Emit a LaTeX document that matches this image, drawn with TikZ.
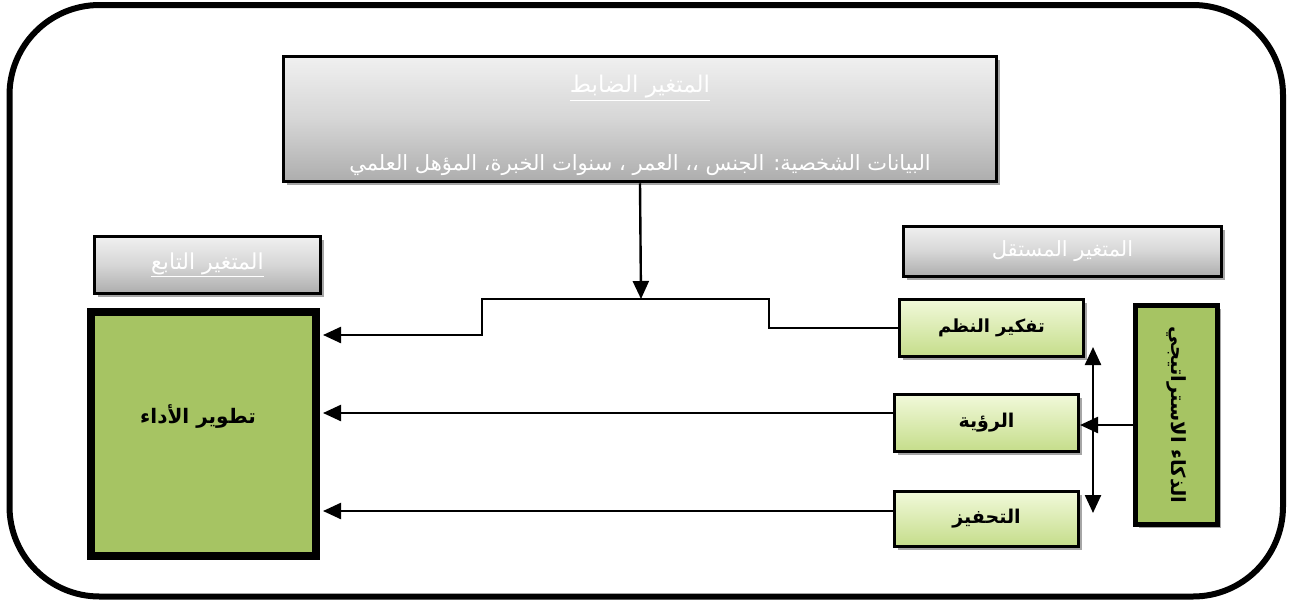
\documentclass[tikz,border=0pt]{standalone}
\usepackage{fontspec}
\newfontfamily\arabicfont[Script=Arabic]{DejaVu Sans}
\TeXXeTstate=1
\usetikzlibrary{arrows.meta,shadows,calc}
\definecolor{dgreen}{HTML}{A6C463}
\definecolor{lgreenT}{HTML}{F1F9DA}
\definecolor{lgreenB}{HTML}{C5DD8A}
\definecolor{grayT}{HTML}{F0F0F0}
\definecolor{grayM}{HTML}{D6D6D6}
\definecolor{grayB}{HTML}{ADADAD}
\tikzset{
  tip/.tip={Triangle[length=18pt,width=16pt]},
  arr/.style={line width=2.4pt, -tip},
  link/.style={line width=2.4pt},
  shad/.style={drop shadow={shadow xshift=3pt,shadow yshift=-3pt,opacity=0.35,fill=black}},
  graybox/.style={draw=black, line width=3.5pt, top color=grayT, bottom color=grayB, middle color=grayM, shad,
     text=white, font=\arabicfont\fontsize{21}{24}\selectfont, inner sep=0pt},
  smallgreen/.style={draw=black, line width=3.5pt, top color=lgreenT, bottom color=lgreenB, shad,
     font=\arabicfont\bfseries\fontsize{18}{22}\selectfont, inner sep=0pt},
  biggreen/.style={draw=black, line width=8pt, fill=dgreen, shad, inner sep=0pt},
}
\begin{document}
\begin{tikzpicture}[x=1pt,y=-1pt]
\useasboundingbox (0,0) rectangle (1290,600);
\fill[white] (0,0) rectangle (1290,600);
% outer frame
\draw[line width=6pt, rounded corners=90pt] (9.5,5) rectangle (1283,596.5);

% top control box
\node[graybox, minimum width=713pt, minimum height=125pt] (top) at (640,119) {};
\node[text=white, font=\arabicfont\fontsize{23}{26}\selectfont] (topT1) at (640,88)
  {\underline{\beginR المتغير الضابط\endR}};
\node[text=white, font=\arabicfont\fontsize{21}{24}\selectfont] (topT2) at (640,165)
  {\beginR البيانات الشخصية: الجنس ،، العمر ، سنوات الخبرة، المؤهل العلمي\endR};

% label boxes
\node[graybox, font=\arabicfont\fontsize{22}{24}\selectfont, minimum width=226pt, minimum height=57pt] (lblT) at (207.5,265)
  {\underline{\beginR المتغير التابع\endR}};
\node[graybox, minimum width=318pt, minimum height=50pt] (lblM) at (1062.5,251.5)
  {\beginR المتغير المستقل\endR};

% big dependent box
\node[biggreen, minimum width=225pt, minimum height=244pt] (perf) at (203.5,434) {};
\node[font=\arabicfont\bfseries\fontsize{20}{24}\selectfont] (perfT) at (198,416) {\beginR تطوير الأداء\endR};

% small green boxes
\node[smallgreen, minimum width=184pt, minimum height=57pt] (tfk) at (991.5,328) {\beginR تفكير النظم\endR};
\node[smallgreen, font=\arabicfont\bfseries\fontsize{19}{22}\selectfont, minimum width=184pt, minimum height=57pt] (ruya) at (986.5,423) {\beginR الرؤية\endR};
\node[smallgreen, font=\arabicfont\bfseries\fontsize{19}{22}\selectfont, minimum width=184pt, minimum height=55pt] (tahf) at (986.5,519) {\beginR التحفيز\endR};

% vertical independent box
\node[draw=black, line width=5pt, fill=dgreen, shad, minimum width=82pt, minimum height=219pt, inner sep=0pt] (dhaka) at (1176.5,415) {};
\node[rotate=-90, font=\arabicfont\bfseries\fontsize{19.5}{22}\selectfont] (dhakaT) at (1176.5,415) {\beginR الذكاء الاستراتيجي\endR};

% coordinates
\coordinate (j1) at (641,299);
\coordinate (a1) at (769,328);
\coordinate (a2) at (769,299);
\coordinate (a3) at (482,299);
\coordinate (a4) at (482,335);
\coordinate (r1) at (893,413);
\coordinate (t1) at (893,511);
\coordinate (d1) at (1136,425);
\coordinate (d2) at (1080,425);
\coordinate (v1) at (1093,347);
\coordinate (v2) at (1093,513);

% connectors
\draw[arr] (top.south) -- (j1);
\draw[arr, shorten >=3pt] (tfk.west) -- (a1) -- (a2) -- (a3) -- (a4) -- (a4 -| perf.east);
\draw[arr, shorten >=3pt] (r1) -- (r1 -| perf.east);
\draw[arr, shorten >=3pt] (t1) -- (t1 -| perf.east);
\draw[arr] (d1) -- (d2);
\draw[link, tip-tip] (v1) -- (v2);
\end{tikzpicture}
\end{document}
